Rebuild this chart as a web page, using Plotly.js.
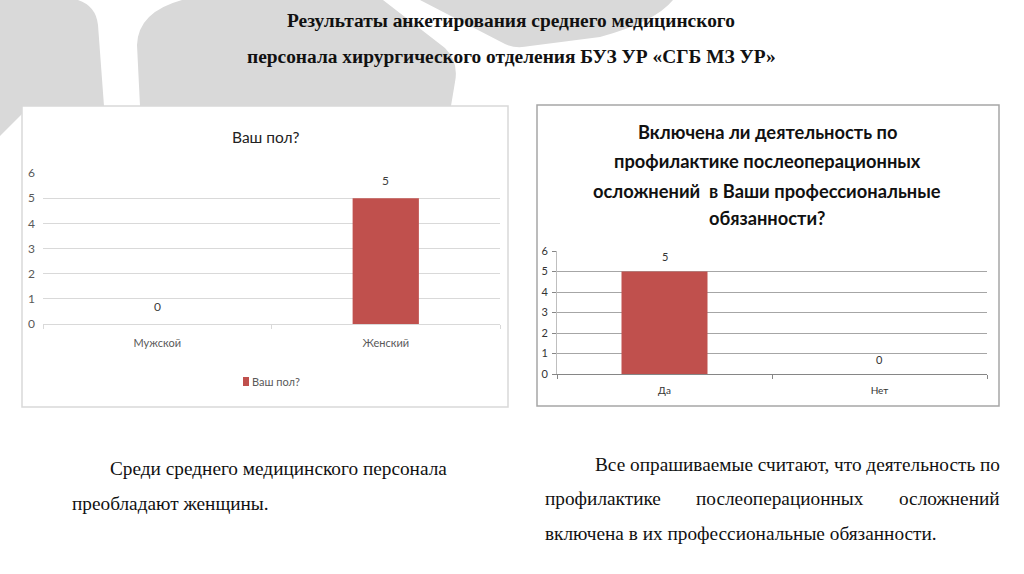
<!DOCTYPE html>
<html>
<head>
<meta charset="utf-8">
<script src="https://cdn.plot.ly/plotly-3.0.1.min.js"></script>
<style>html,body{margin:0;padding:0;background:#fff;}#chart{width:1024px;height:574px;}</style>
</head>
<body>
<div id="chart"></div>
<script>
// ---- data ----
var genderCategories = ['Мужской', 'Женский'];
var genderValues = [0, 5];
var genderSeriesName = 'Ваш пол?';
var genderTitle = 'Ваш пол?';

var dutyCategories = ['Да', 'Нет'];
var dutyValues = [5, 0];
var dutyTitleLines = ['Включена ли деятельность по', 'профилактике послеоперационных', 'осложнений  в Ваши профессиональные', 'обязанности?'];

var yTicks = [0, 1, 2, 3, 4, 5, 6];

var slideTitleLines = ['Результаты анкетирования среднего медицинского', 'персонала хирургического отделения БУЗ УР «СГБ МЗ УР»'];
var leftNote = ['Среди среднего медицинского персонала', 'преобладают женщины.'];
var rightNote = ['Все опрашиваемые считают, что деятельность по', ['профилактике', 'послеоперационных', 'осложнений'], 'включена в их профессиональные обязанности.'];

// ---- helpers ----
var W = 1024, H = 574;
function px(x){ return x / W; }
function py(y){ return 1 - y / H; }
function pp(d){
  return d.replace(/(-?\d+(?:\.\d+)?),(-?\d+(?:\.\d+)?)/g, function(m, a, b){
    return (a / W).toFixed(5) + ',' + (1 - b / H).toFixed(5);
  });
}
var BAR = '#C0504D';
var chartFont = 'Lato, "Noto Sans", sans-serif';
var serif = '"Liberation Serif", "DejaVu Serif", serif';
var noteSize = 19.3;

var traces = [
  {
    type: 'bar', x: genderCategories, y: genderValues, name: genderSeriesName,
    marker: {color: BAR}, width: 0.29, xaxis: 'x', yaxis: 'y', showlegend: false,
    hoverinfo: 'none'
  },
  {
    type: 'bar', x: dutyCategories, y: dutyValues, name: 'duty',
    marker: {color: BAR}, width: 0.4, xaxis: 'x2', yaxis: 'y2', showlegend: false,
    hoverinfo: 'none'
  }
];

var shapes = [
  // background decorative grey shapes
  {type: 'path', xref: 'paper', yref: 'paper', layer: 'below', fillcolor: '#d9d9d9', line: {width: 0},
   path: pp('M0,0 L78,0 Q96,6 98,25 L104,106 L22,106 L22,114 L0,136 Z')},
  {type: 'path', xref: 'paper', yref: 'paper', layer: 'below', fillcolor: '#d9d9d9', line: {width: 0},
   path: pp('M182,0 L383,0 L445,48 Q459,62 455,82 L451,106 L140,106 L137,45 Q138,12 182,0 Z')},
  {type: 'path', xref: 'paper', yref: 'paper', layer: 'below', fillcolor: '#d9d9d9', line: {width: 0},
   path: pp('M420,0 L505,44 Q515,49 530,46 L600,37 Q655,22 673,0 Z')},
  // chart boxes
  {type: 'rect', xref: 'paper', yref: 'paper', layer: 'below', fillcolor: '#ffffff',
   line: {color: '#d9d9d9', width: 1.5},
   x0: px(22), x1: px(508), y0: py(407), y1: py(106)},
  {type: 'rect', xref: 'paper', yref: 'paper', layer: 'below', fillcolor: '#ffffff',
   line: {color: '#a6a6a6', width: 1.5},
   x0: px(537), x1: px(999), y0: py(406), y1: py(105)},
  // legend key for chart 1
  {type: 'rect', xref: 'paper', yref: 'paper', layer: 'above', fillcolor: BAR, line: {width: 0},
   x0: px(243), x1: px(249), y0: py(386), y1: py(377)}
];

var annotations = [];
// slide title
var titleY = [20, 57];
slideTitleLines.forEach(function(t, i){
  annotations.push({xref: 'paper', yref: 'paper', x: px(511), y: py(titleY[i]), text: '<b>' + t + '</b>',
    showarrow: false, xanchor: 'center', yanchor: 'middle', font: {family: serif, size: 19.4, color: '#111'}});
});
// chart 1 title
annotations.push({xref: 'paper', yref: 'paper', x: px(266), y: py(137), text: genderTitle, showarrow: false,
  xanchor: 'center', yanchor: 'middle', font: {family: chartFont, size: 15.5, color: '#222'}});
// chart 1 legend text
annotations.push({xref: 'paper', yref: 'paper', x: px(250), y: py(381.5), text: genderSeriesName, showarrow: false,
  xanchor: 'left', yanchor: 'middle', font: {family: chartFont, size: 11, color: '#595959'}});
// chart 2 title
var t2Y = [132, 161, 191, 218];
dutyTitleLines.forEach(function(t, i){
  annotations.push({xref: 'paper', yref: 'paper', x: px(767), y: py(t2Y[i]), text: '<b>' + t.replace(/  /g, ' &nbsp;') + '</b>',
    showarrow: false, xanchor: 'center', yanchor: 'middle', font: {family: chartFont, size: 18.3, color: '#111'}});
});
// data labels
genderCategories.forEach(function(c, i){
  annotations.push({xref: 'x', yref: 'y', x: c, y: genderValues[i], text: String(genderValues[i]), showarrow: false,
    yshift: 18, yanchor: 'middle', font: {family: chartFont, size: 12, color: '#404040'}});
});
dutyCategories.forEach(function(c, i){
  annotations.push({xref: 'x2', yref: 'y2', x: c, y: dutyValues[i], text: String(dutyValues[i]), showarrow: false,
    yshift: 15, yanchor: 'middle', font: {family: chartFont, size: 11, color: '#333'}});
});
// bottom notes
annotations.push({xref: 'paper', yref: 'paper', x: px(108), y: py(469), text: leftNote[0], showarrow: false,
  xanchor: 'left', yanchor: 'middle', font: {family: serif, size: noteSize, color: '#111'}});
annotations.push({xref: 'paper', yref: 'paper', x: px(70), y: py(503), text: leftNote[1], showarrow: false,
  xanchor: 'left', yanchor: 'middle', font: {family: serif, size: noteSize, color: '#111'}});
annotations.push({xref: 'paper', yref: 'paper', x: px(1002), y: py(464), text: rightNote[0], showarrow: false,
  xanchor: 'right', yanchor: 'middle', font: {family: serif, size: noteSize, color: '#111'}});
var jx = [543, 780, 1002], ja = ['left', 'center', 'right'];
rightNote[1].forEach(function(w, i){
  annotations.push({xref: 'paper', yref: 'paper', x: px(jx[i]), y: py(498), text: w, showarrow: false,
    xanchor: ja[i], yanchor: 'middle', font: {family: serif, size: noteSize, color: '#111'}});
});
annotations.push({xref: 'paper', yref: 'paper', x: px(543), y: py(533), text: rightNote[2], showarrow: false,
  xanchor: 'left', yanchor: 'middle', font: {family: serif, size: noteSize, color: '#111'}});

var layout = {
  width: W, height: H,
  margin: {l: 0, r: 0, t: 0, b: 0, pad: 0},
  paper_bgcolor: '#ffffff', plot_bgcolor: 'rgba(0,0,0,0)',
  font: {family: chartFont},
  showlegend: false,
  xaxis: {domain: [px(43), px(500)], anchor: 'y', type: 'category', categoryorder: 'array', categoryarray: genderCategories,
    showgrid: false, zeroline: false, showline: true, linecolor: '#d9d9d9', linewidth: 1,
    ticks: 'outside', tickson: 'boundaries', ticklen: 4, tickcolor: '#d9d9d9',
    tickfont: {family: chartFont, size: 11, color: '#595959'}, ticklabelstandoff: 9, fixedrange: true},
  yaxis: {domain: [py(324), py(173)], anchor: 'x', range: [0, 6], tickvals: yTicks, showgrid: true, gridcolor: '#d9d9d9',
    zeroline: false, showline: false, ticks: '', tickfont: {family: chartFont, size: 12, color: '#595959'},
    ticklabelstandoff: 7, fixedrange: true},
  xaxis2: {domain: [px(557), px(987)], anchor: 'y2', type: 'category', categoryorder: 'array', categoryarray: dutyCategories,
    showgrid: false, zeroline: false, showline: true, linecolor: '#868686', linewidth: 1,
    ticks: 'outside', tickson: 'boundaries', ticklen: 4, tickcolor: '#868686',
    tickfont: {family: chartFont, size: 10, color: '#333'}, ticklabelstandoff: 7, fixedrange: true},
  yaxis2: {domain: [py(374), py(251)], anchor: 'x2', range: [0, 6], tickvals: yTicks, showgrid: true, gridcolor: '#a6a6a6',
    zeroline: false, showline: true, linecolor: '#bfbfbf', ticks: 'outside', ticklen: 4, tickcolor: '#868686',
    tickfont: {family: chartFont, size: 11, color: '#333'}, ticklabelstandoff: 2, fixedrange: true},
  shapes: shapes,
  annotations: annotations
};

Plotly.newPlot('chart', traces, layout, {displayModeBar: false, staticPlot: true});
</script>
</body>
</html>
